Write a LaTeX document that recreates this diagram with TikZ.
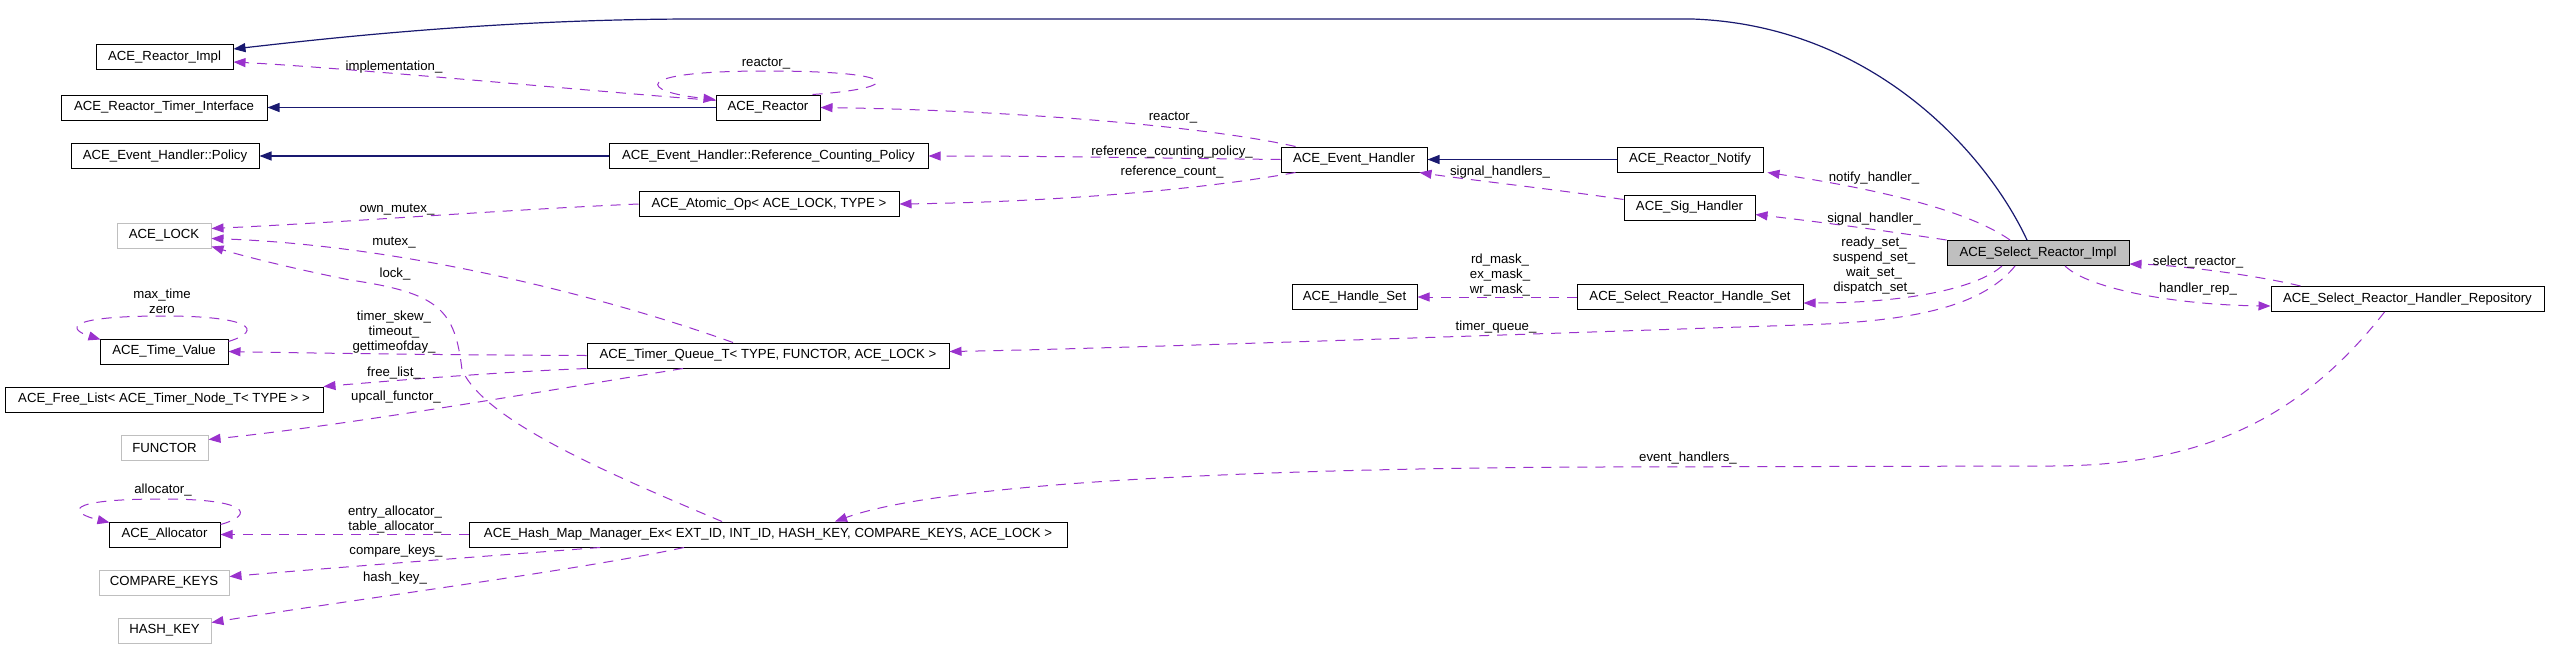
\documentclass[tikz,border=0pt]{standalone}
\usepackage{fontspec}
\usetikzlibrary{arrows.meta,calc}
\newfontfamily\dgfont{Liberation Sans}
\definecolor{navyc}{RGB}{25,25,112}
\definecolor{purc}{RGB}{154,50,205}
\definecolor{grayb}{RGB}{191,191,191}
\begin{document}
\begin{tikzpicture}[x=1pt,y=-1pt,
 box/.style={draw=black,line width=1pt,inner sep=0pt,minimum height=25pt,font=\dgfont\fontsize{13.2}{15}\selectfont},
 gbox/.style={box,draw=grayb},
 lbl/.style={inner sep=0pt,align=center,font=\dgfont\fontsize{13.2}{15}\selectfont},
 inh/.style={draw=navyc,line width=1.2pt,-{Triangle[length=12pt,width=9pt]}},
 assoc/.style={draw=purc,line width=1pt,dash pattern=on 10pt off 8pt,-{Triangle[length=12pt,width=9pt]}}]
\fill[white] (0,0) rectangle (2549,659);
\useasboundingbox (0,0) rectangle (2549,659);
% nodes
\node[box,minimum width=137pt] (RImpl) at (164.5,57) {ACE\_Reactor\_Impl};
\node[box,minimum width=206pt] (RTI) at (164,107.5) {ACE\_Reactor\_Timer\_Interface};
\node[box,minimum width=104pt] (Reactor) at (768,107.5) {ACE\_Reactor};
\node[box,minimum width=188pt] (Policy) at (165,156) {ACE\_Event\_Handler::Policy};
\node[box,minimum width=319pt] (RCP) at (768.5,156) {ACE\_Event\_Handler::Reference\_Counting\_Policy};
\node[box,minimum width=260pt] (Atomic) at (769,204) {ACE\_Atomic\_Op< ACE\_LOCK, TYPE >};
\node[gbox,minimum width=94pt] (Lock) at (164,235.5) {ACE\_LOCK};
\node[box,minimum width=128pt] (TV) at (164,351.5) {ACE\_Time\_Value};
\node[box,minimum width=362pt] (TQ) at (768,355.5) {ACE\_Timer\_Queue\_T< TYPE, FUNCTOR, ACE\_LOCK >};
\node[box,minimum width=318pt] (FreeList) at (164,399.5) {ACE\_Free\_List< ACE\_Timer\_Node\_T< TYPE > >};
\node[gbox,minimum width=87pt] (Functor) at (164.5,447.5) {FUNCTOR};
\node[box,minimum width=111pt] (Allocator) at (164.5,534.5) {ACE\_Allocator};
\node[box,minimum width=598pt] (HM) at (768,534.5) {ACE\_Hash\_Map\_Manager\_Ex< EXT\_ID, INT\_ID, HASH\_KEY, COMPARE\_KEYS, ACE\_LOCK >};
\node[gbox,minimum width=130pt] (CK) at (164,582.5) {COMPARE\_KEYS};
\node[gbox,minimum width=93pt] (HK) at (164.5,630.5) {HASH\_KEY};
\node[box,minimum width=146pt] (EH) at (1354,159.5) {ACE\_Event\_Handler};
\node[box,minimum width=146pt] (Notify) at (1690,159.5) {ACE\_Reactor\_Notify};
\node[box,minimum width=131pt] (Sig) at (1689.5,207.5) {ACE\_Sig\_Handler};
\node[box,minimum width=125pt] (HandleSet) at (1354.5,297) {ACE\_Handle\_Set};
\node[box,minimum width=226pt] (SRHS) at (1690,297) {ACE\_Select\_Reactor\_Handle\_Set};
\node[box,fill=grayb,minimum width=182pt] (Impl) at (2038,253) {ACE\_Select\_Reactor\_Impl};
\node[box,minimum width=273pt] (Repo) at (2407.5,299) {ACE\_Select\_Reactor\_Handler\_Repository};
% inheritance
\draw[inh] ($(Impl.north)+(-11,0)$) .. controls (1985,150) and (1870,25) .. (1692,19) -- (697,19) .. controls (500,19) and (330,38) .. ($(RImpl.east)+(0,-8)$);
\draw[inh] (Reactor.west) -- (RTI.east);
\draw[inh] (RCP.west) -- (Policy.east);
\draw[inh] (Notify.west) -- (EH.east);
% usage
\draw[assoc] ($(Reactor.west)+(0,-7)$) .. controls (600,92) and (350,68) .. ($(RImpl.east)+(0,5)$);
\draw[assoc] ($(Reactor.north east)+(-8,0)$) .. controls (905,88) and (905,71) .. (766,71) .. controls (627,71) and (640,92) .. ($(Reactor.north west)+(0,5)$);
\draw[assoc] ($(EH.north west)+(15,0)$) .. controls (1200,125) and (1000,110) .. (Reactor.east);
\draw[assoc] (EH.west) .. controls (1150,158) and (1050,156) .. (RCP.east);
\draw[assoc] ($(EH.south west)+(15,0)$) .. controls (1200,190) and (1050,202) .. (Atomic.east);
\draw[assoc] ($(Sig.north west)+(0,5)$) .. controls (1560,190) and (1470,180) .. ($(EH.south east)+(-8,0)$);
\draw[assoc] ($(Impl.north)+(-28,0)$) .. controls (1960,205) and (1850,185) .. ($(Notify.south east)+(4,0)$);
\draw[assoc] (Impl.north west) .. controls (1880,230) and (1820,222) .. ($(Sig.east)+(0,7)$);
\draw[assoc] ($(Impl.south)+(-36,0)$) .. controls (1975,290) and (1900,303) .. ($(SRHS.east)+(0,6)$);
\draw[assoc] (SRHS.west) -- (HandleSet.east);
\draw[assoc] ($(Impl.south)+(-23,0)$) .. controls (1980,310) and (1900,322) .. (1800,325) .. controls (1500,335) and (1100,349) .. ($(TQ.east)+(0,-4)$);
\draw[assoc] ($(Impl.south)+(27,0)$) .. controls (2090,290) and (2180,305) .. ($(Repo.west)+(0,7)$);
\draw[assoc] ($(Repo.north)+(-107,0)$) .. controls (2260,276) and (2180,265) .. ($(Impl.east)+(0,11)$);
\draw[assoc] ($(Repo.south)+(-23,0)$) .. controls (2300,420) and (2200,466) .. (2050,466) -- (1600,467) .. controls (1300,468) and (950,480) .. ($(HM.north)+(67,0)$);
\draw[assoc] (Atomic.west) .. controls (500,210) and (350,222) .. ($(Lock.east)+(0,-7)$);
\draw[assoc] ($(TQ.north)+(-35,0)$) .. controls (600,295) and (400,245) .. ($(Lock.east)+(0,3)$);
\draw[assoc] ($(HM.north)+(-46,0)$) .. controls (600,470) and (485,420) .. (462,370) .. controls (455,310) and (440,293) .. (350,280) .. controls (300,270) and (250,258) .. ($(Lock.south east)+(0,-2)$);
\draw[assoc] ($(TV.north east)+(0,3)$) .. controls (265,330) and (250,316) .. (164,316) .. controls (60,316) and (70,330) .. ($(TV.north west)+(1,1)$);
\draw[assoc] (TQ.west) .. controls (450,355) and (300,353) .. (TV.east);
\draw[assoc] (TQ.south west) .. controls (500,372) and (400,380) .. (FreeList.north east);
\draw[assoc] ($(TQ.south)+(-85,0)$) .. controls (550,390) and (350,425) .. ($(Functor.east)+(0,-8)$);
\draw[assoc] ($(Allocator.north east)+(0,3)$) .. controls (255,515) and (250,499) .. (163,499) .. controls (60,499) and (70,513) .. ($(Allocator.north west)+(1,1)$);
\draw[assoc] (HM.west) -- (Allocator.east);
\draw[assoc] ($(HM.south)+(-168,0)$) .. controls (500,555) and (330,568) .. ($(CK.east)+(0,-6)$);
\draw[assoc] ($(HM.south)+(-84,0)$) .. controls (580,570) and (350,600) .. ($(HK.east)+(0,-8)$);
% labels
\node[lbl] (l1) at (394,67) {implementation\_};
\node[lbl] (l2) at (766,64) {reactor\_};
\node[lbl] (l3) at (1173,118) {reactor\_};
\node[lbl] (l4) at (1172,152) {reference\_counting\_policy\_};
\node[lbl] (l5) at (1172,172) {reference\_count\_};
\node[lbl] (l6) at (1500,172) {signal\_handlers\_};
\node[lbl] (l7) at (1874,178) {notify\_handler\_};
\node[lbl] (l8) at (1874,219) {signal\_handler\_};
\node[lbl] (l9) at (1874,266) {ready\_set\_\\suspend\_set\_\\wait\_set\_\\dispatch\_set\_};
\node[lbl] (l10) at (1500,275) {rd\_mask\_\\ex\_mask\_\\wr\_mask\_};
\node[lbl] (l11) at (1496,327) {timer\_queue\_};
\node[lbl] (l12) at (2198,262) {select\_reactor\_};
\node[lbl] (l13) at (2198,289) {handler\_rep\_};
\node[lbl] (l14) at (1688,458) {event\_handlers\_};
\node[lbl] (l15) at (397,210) {own\_mutex\_};
\node[lbl] (l16) at (394,243) {mutex\_};
\node[lbl] (l17) at (395,274) {lock\_};
\node[lbl] (l18) at (162,301) {max\_time\\zero};
\node[lbl] (l19) at (394,332) {timer\_skew\_\\timeout\_\\gettimeofday\_};
\node[lbl] (l20) at (394,373) {free\_list\_};
\node[lbl] (l21) at (396,397) {upcall\_functor\_};
\node[lbl] (l22) at (163,490) {allocator\_};
\node[lbl] (l23) at (395,519.5) {entry\_allocator\_\\table\_allocator\_};
\node[lbl] (l24) at (396,551) {compare\_keys\_};
\node[lbl] (l25) at (395,578) {hash\_key\_};
\end{tikzpicture}
\end{document}
